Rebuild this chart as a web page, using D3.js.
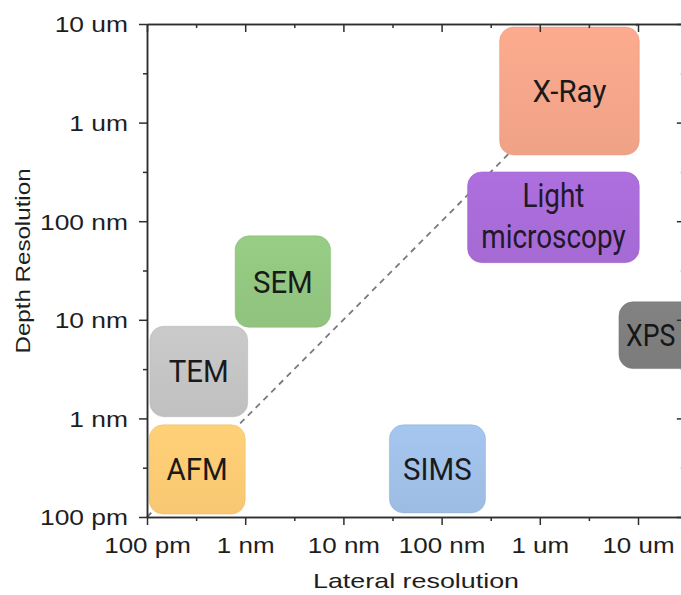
<!DOCTYPE html>
<html>
<head>
<meta charset="utf-8">
<script src="https://cdn.jsdelivr.net/npm/d3@7"></script>
<style>
  html, body { margin: 0; padding: 0; background: #fff; }
  svg { display: block; }
</style>
</head>
<body>
<svg id="chart" width="681" height="595"></svg>
<script>
// ---- data ----
const tickValues = [1e-10, 1e-9, 1e-8, 1e-7, 1e-6, 1e-5];
const xTickLabels = ["100 pm", "1 nm", "10 nm", "100 nm", "1 um", "10 um"];
const yTickLabels = ["100 pm", "1 nm", "10 nm", "100 nm", "1 um", "10 um"];

const methods = ["X-Ray", "Light microscopy", "SEM", "TEM", "AFM", "SIMS", "XPS"];
const lateralMin = [3.9e-7, 1.84e-7, 7.9e-10, 1.07e-10, 1.05e-10, 2.94e-8, 6.4e-6];
const lateralMax = [1.03e-5, 1.03e-5, 7.4e-9, 1.06e-9, 1.0e-9, 2.8e-7, 5e-5];
const depthMin   = [4.7e-7, 3.8e-8, 8.4e-9, 1.04e-9, 1.07e-10, 1.1e-10, 3.2e-9];
const depthMax   = [9.3e-6, 3.16e-7, 7.1e-8, 8.6e-9, 8.6e-10, 8.6e-10, 1.52e-8];
const colors = ["#F5A68A", "#A96CD9", "#93C781", "#C4C4C4", "#FDCB74", "#A0C0E8", "#7E7E7E"];

const diagLateral = [1e-10, 1e-5];
const diagDepth   = [1e-10, 1e-5];

(function () {
// ---- layout ----
const svg = d3.select("#chart");
const mLeft = 147, mBottom = 517, mTop = 24, decX = 98.2;
const x = d3.scaleLog().domain([1e-10, 3e-5]).range([mLeft, mLeft + decX * Math.log10(3e5)]);
const y = d3.scaleLog().domain([1e-10, 1e-5]).range([mBottom, mTop]);
const minorValues = tickValues.map(v => v * Math.sqrt(10)).filter(v => v < 3e-5);

const axisColor = "#2e2e2e";

// dashed diagonal (behind boxes)
svg.append("path")
  .datum(diagLateral.map((d, i) => [d, diagDepth[i]]))
  .attr("d", d3.line().x(d => x(d[0])).y(d => y(d[1])))
  .attr("fill", "none")
  .attr("stroke", "#7a7a7a")
  .attr("stroke-width", 1.8)
  .attr("stroke-dasharray", "6,5");

// boxes
const defs = svg.append("defs");
methods.forEach((m, i) => {
  const g = defs.append("linearGradient").attr("id", "grad" + i)
    .attr("x1", 0).attr("y1", 0).attr("x2", 0).attr("y2", 1);
  g.append("stop").attr("offset", "0%").attr("stop-color", d3.color(colors[i]).brighter(0.08));
  g.append("stop").attr("offset", "100%").attr("stop-color", d3.color(colors[i]).darker(0.06));
});

const boxes = svg.append("g").selectAll("g").data(methods).join("g");
boxes.append("rect")
  .attr("x", (d, i) => x(lateralMin[i]))
  .attr("y", (d, i) => y(depthMax[i]))
  .attr("width", (d, i) => x(lateralMax[i]) - x(lateralMin[i]))
  .attr("height", (d, i) => y(depthMin[i]) - y(depthMax[i]))
  .attr("rx", 14).attr("ry", 14)
  .attr("fill", (d, i) => `url(#grad${i})`)
  .attr("stroke", (d, i) => d3.color(colors[i]).darker(0.25))
  .attr("stroke-opacity", 0.5)
  .attr("stroke-width", 1);

boxes.each(function(d, i) {
  const cx = (x(lateralMin[i]) + x(lateralMax[i])) / 2;
  const cy = (y(depthMin[i]) + y(depthMax[i])) / 2;
  const g = d3.select(this);
  if (d === "Light microscopy") {
    const fs = 34;
    [["Light", -10.5], ["microscopy", 31]].forEach(([t, off]) => {
      g.append("text")
        .attr("transform", `translate(${cx},${cy + off}) scale(0.82,1)`)
        .attr("text-anchor", "middle")
        .style("font-family", "Roboto, sans-serif")
        .style("font-size", fs + "px")
        .attr("fill", "#221829")
        .text(t);
    });
  } else if (d === "XPS") {
    const fs = 31;
    g.append("text")
      .attr("transform", `translate(${x(lateralMin[i]) + 7},${cy + fs * 0.355}) scale(0.86,1)`)
      .attr("text-anchor", "start")
      .style("font-family", "Roboto, sans-serif")
      .style("font-size", fs + "px")
      .attr("fill", "#161616")
      .text(d);
  } else {
    const fs = 31;
    g.append("text")
      .attr("transform", `translate(${cx},${cy + fs * 0.355}) scale(0.95,1)`)
      .attr("text-anchor", "middle")
      .style("font-family", "Roboto, sans-serif")
      .style("font-size", fs + "px")
      .attr("fill", "#1a1a1a")
      .text(d);
  }
});

// axes
function styleAxis(g) {
  g.select(".domain").attr("stroke", axisColor).attr("stroke-width", 1.5);
  g.selectAll(".tick line").attr("stroke", axisColor).attr("stroke-width", 1.5);
}

// bottom
const gB = svg.append("g").attr("transform", `translate(0,${mBottom})`)
  .call(d3.axisBottom(x).tickValues(tickValues).tickFormat((d, i) => xTickLabels[i]).tickSize(8).tickSizeOuter(0));
styleAxis(gB);
gB.selectAll(".tick text")
  .attr("y", null).attr("dy", null)
  .attr("transform", "translate(0,36) scale(1.18,1)")
  .attr("text-anchor", "middle")
  .attr("fill", "#1e1e1e")
  .style("font-family", "'Liberation Sans', Arial, sans-serif")
  .style("font-size", "22px");
const gBm = svg.append("g").attr("transform", `translate(0,${mBottom})`)
  .call(d3.axisBottom(x).tickValues(minorValues).tickFormat("").tickSize(4).tickSizeOuter(0));
styleAxis(gBm);

// left
const gL = svg.append("g").attr("transform", `translate(${mLeft},0)`)
  .call(d3.axisLeft(y).tickValues(tickValues).tickFormat((d, i) => yTickLabels[i]).tickSize(8).tickSizeOuter(0));
styleAxis(gL);
gL.selectAll(".tick text")
  .attr("x", null).attr("dy", "0.36em")
  .attr("transform", "translate(-19,0) scale(1.2,1)")
  .attr("text-anchor", "end")
  .attr("fill", "#1e1e1e")
  .style("font-family", "'Liberation Sans', Arial, sans-serif")
  .style("font-size", "22px");
const gLm = svg.append("g").attr("transform", `translate(${mLeft},0)`)
  .call(d3.axisLeft(y).tickValues(minorValues.filter(v => v < 1e-5)).tickFormat("").tickSize(4).tickSizeOuter(0));
styleAxis(gLm);

// top (inward ticks)
const gT = svg.append("g").attr("transform", `translate(0,${mTop})`)
  .call(d3.axisTop(x).tickValues(tickValues).tickFormat("").tickSize(-8).tickSizeOuter(0));
styleAxis(gT);
const gTm = svg.append("g").attr("transform", `translate(0,${mTop})`)
  .call(d3.axisTop(x).tickValues(minorValues).tickFormat("").tickSize(-4).tickSizeOuter(0));
styleAxis(gTm);

// right (inward ticks)
const mRight = x.range()[1];
const gR = svg.append("g").attr("transform", `translate(${mRight},0)`)
  .call(d3.axisRight(y).tickValues(tickValues).tickFormat("").tickSize(-8).tickSizeOuter(0));
styleAxis(gR);
const gRm = svg.append("g").attr("transform", `translate(${mRight},0)`)
  .call(d3.axisRight(y).tickValues(minorValues.filter(v => v < 1e-5)).tickFormat("").tickSize(-4).tickSizeOuter(0));
styleAxis(gRm);

// axis titles
svg.append("text")
  .attr("transform", "translate(416,588) scale(1.28,1)")
  .attr("text-anchor", "middle")
  .attr("fill", "#1e1e1e")
  .style("font-family", "'Liberation Sans', Arial, sans-serif")
  .style("font-size", "21px")
  .text("Lateral resolution");

svg.append("text")
  .attr("transform", "translate(30,261) rotate(-90) scale(1.15,1)")
  .attr("text-anchor", "middle")
  .attr("fill", "#1e1e1e")
  .style("font-family", "'Liberation Sans', Arial, sans-serif")
  .style("font-size", "21px")
  .text("Depth Resolution");
})();
</script>
</body>
</html>
